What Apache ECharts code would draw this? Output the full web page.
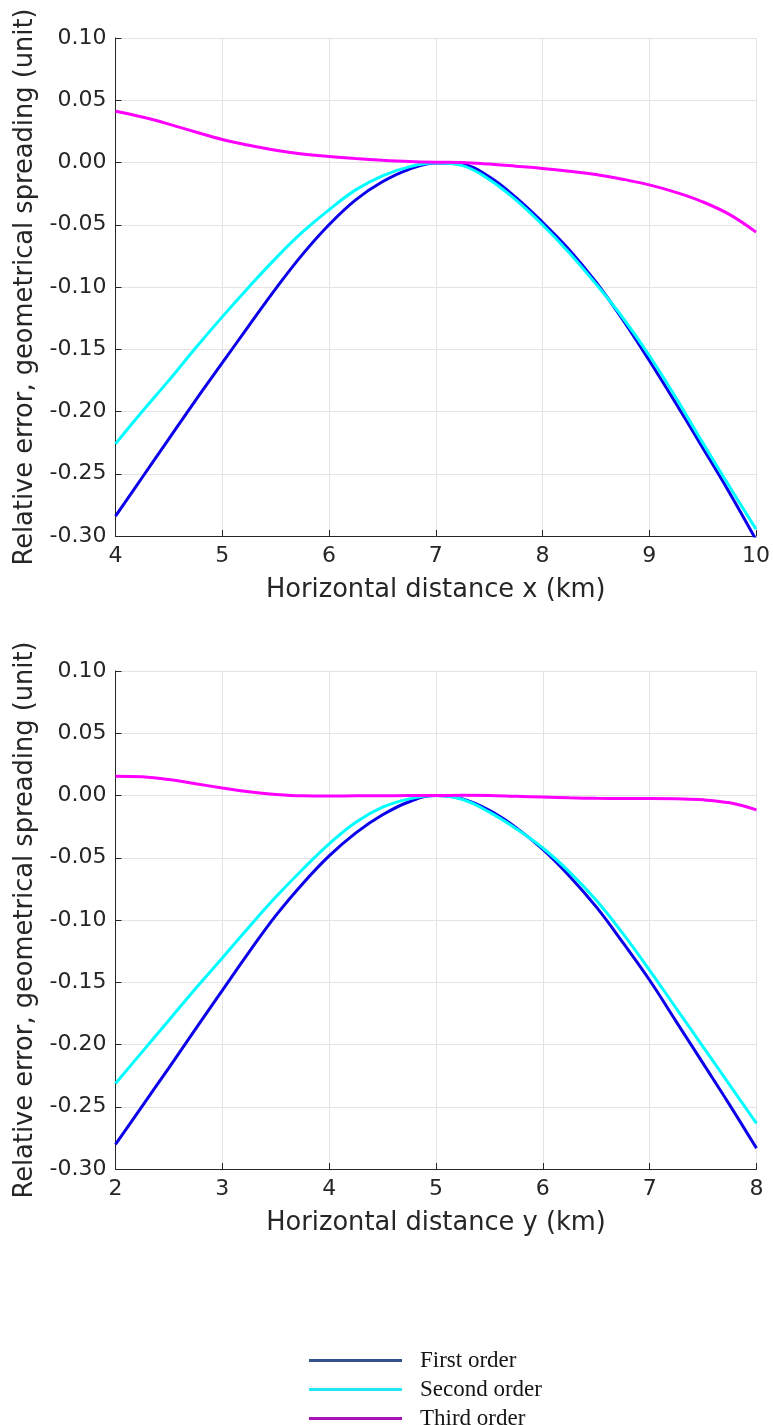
<!DOCTYPE html>
<html>
<head>
<meta charset="utf-8">
<script src="https://cdn.jsdelivr.net/npm/echarts@6/dist/echarts.min.js"></script>
<style>
  html, body { margin: 0; padding: 0; background: #ffffff; }
  #chart { width: 773px; height: 1425px; }
</style>
</head>
<body>
<div id="chart"></div>
<script>
// Sample positions along the x profile (km)
const xProfile = [4, 4.25, 4.5, 4.75, 5, 5.25, 5.5, 5.75, 6, 6.25, 6.5, 6.75, 7,
                  7.25, 7.5, 7.75, 8, 8.25, 8.5, 8.75, 9, 9.25, 9.5, 9.75, 10];
// Relative error along x, per approximation order
const xFirst  = [-0.284, -0.253, -0.222, -0.191, -0.161, -0.131, -0.1015, -0.074, -0.050, -0.030, -0.0155, -0.0055, -0.0005,
                 -0.0016, -0.0115, -0.028, -0.048, -0.070, -0.096, -0.126, -0.159, -0.1935, -0.229, -0.265, -0.303];
const xSecond = [-0.226, -0.200, -0.175, -0.149, -0.124, -0.100, -0.077, -0.056, -0.038, -0.022, -0.0107, -0.0035, -0.0003,
                 -0.0025, -0.0136, -0.030, -0.050, -0.0725, -0.0975, -0.1245, -0.155, -0.189, -0.225, -0.260, -0.2945];
const xThird  = [0.0412, 0.0365, 0.0308, 0.0245, 0.0185, 0.0138, 0.0098, 0.0068, 0.0048, 0.0032, 0.0019, 0.0009, 0.0003,
                 0.0, -0.0013, -0.003, -0.0048, -0.007, -0.0096, -0.0134, -0.018, -0.024, -0.0316, -0.0417, -0.0559];

// Sample positions along the y profile (km)
const yProfile = [2, 2.25, 2.5, 2.75, 3, 3.25, 3.5, 3.75, 4, 4.25, 4.5, 4.75, 5,
                  5.25, 5.5, 5.75, 6, 6.25, 6.5, 6.75, 7, 7.25, 7.5, 7.75, 8];
// Relative error along y, per approximation order
const yFirst  = [-0.2802, -0.2495, -0.2187, -0.1875, -0.1565, -0.1258, -0.0965, -0.0710, -0.0485, -0.0300, -0.0155, -0.0050, 0,
                 -0.0028, -0.0120, -0.0258, -0.0433, -0.0648, -0.0895, -0.1182, -0.1484, -0.1818, -0.2152, -0.2487, -0.2834];
const ySecond = [-0.2313, -0.2059, -0.1805, -0.155, -0.1305, -0.1056, -0.0816, -0.0594, -0.0388, -0.0214, -0.0094, -0.0027, 0,
                 -0.0032, -0.0134, -0.0267, -0.0422, -0.0615, -0.0842, -0.111, -0.1404, -0.1711, -0.2019, -0.2326, -0.2634];
const yThird  = [0.0155, 0.015, 0.0128, 0.0094, 0.0061, 0.0030, 0.0009, -0.0003, -0.0005, -0.0003, -0.0002, 0, 0,
                 0.0002, 0, -0.0007, -0.0013, -0.0019, -0.0023, -0.0024, -0.0024, -0.0027, -0.0035, -0.0059, -0.0115];

const seriesNames = ['First order', 'Second order', 'Third order'];
const lineColors = ['#0c00ea', '#00ffff', '#ff00ff'];
const legendColors = ['#34528c', '#22e8f2', '#a414b6'];

const xTitles = ['Horizontal distance x (km)', 'Horizontal distance y (km)'];
const yTitle = 'Relative error, geometrical spreading (unit)';

const tickFont = { fontFamily: 'DejaVu Sans', fontSize: 22, color: '#262626' };
const titleFont = { fontFamily: 'DejaVu Sans', fontSize: 25.7, color: '#262626' };
const axisDark = '#262626';
const gridGray = '#e3e3e3';

function pair(xs, ys) { return xs.map((x, i) => [x, ys[i]]); }

function xAxisFor(idx, min, max) {
  return {
    type: 'value', gridIndex: idx, min: min, max: max, interval: 1,
    name: xTitles[idx], nameLocation: 'middle', nameGap: 41,
    nameTextStyle: titleFont,
    axisLine: { show: true, onZero: false, lineStyle: { color: axisDark, width: 1 } },
    axisTick: { show: true, inside: true, length: 6, lineStyle: { color: axisDark } },
    axisLabel: Object.assign({ margin: 9 }, tickFont),
    splitLine: { show: true, lineStyle: { color: gridGray, width: 1 } }
  };
}

function yAxisFor(idx) {
  return {
    type: 'value', gridIndex: idx, min: -0.3, max: 0.1, interval: 0.05,
    name: yTitle, nameLocation: 'middle', nameGap: 71, nameRotate: 90,
    nameTextStyle: titleFont,
    axisLine: { show: true, onZero: false, lineStyle: { color: axisDark, width: 1 } },
    axisTick: { show: true, inside: true, length: 6, lineStyle: { color: axisDark } },
    axisLabel: Object.assign({ margin: 9, formatter: v => v.toFixed(2) }, tickFont),
    splitLine: { show: true, lineStyle: { color: gridGray, width: 1 } }
  };
}

function lineSeries(name, color, idx, data) {
  return {
    type: 'line', name: name, xAxisIndex: idx, yAxisIndex: idx,
    data: data, symbol: 'none', smooth: 0.4, clip: true,
    lineStyle: { color: color, width: 3 }, itemStyle: { color: color },
    emphasis: { disabled: true }
  };
}

const valueSets = [[xFirst, xSecond, xThird], [yFirst, ySecond, yThird]];
const profiles = [xProfile, yProfile];

const series = [];
for (let g = 0; g < 2; g++) {
  for (let s = 0; s < 3; s++) {
    series.push(lineSeries(seriesNames[s], lineColors[s], g, pair(profiles[g], valueSets[g][s])));
  }
}

const chart = echarts.init(document.getElementById('chart'), null, { renderer: 'canvas' });
chart.setOption({
  animation: false,
  backgroundColor: '#ffffff',
  grid: [
    { left: 115.5, top: 38, width: 641, height: 498 },
    { left: 115.5, top: 671, width: 641, height: 498 }
  ],
  xAxis: [xAxisFor(0, 4, 10), xAxisFor(1, 2, 8)],
  yAxis: [yAxisFor(0), yAxisFor(1)],
  legend: {
    show: true,
    orient: 'vertical', left: 309, top: 1349, height: 140, padding: 0,
    itemWidth: 93, itemHeight: 3, itemGap: 6,
    icon: 'rect',
    data: seriesNames.map((n, i) => ({
      name: n,
      itemStyle: { color: legendColors[i] }
    })),
    textStyle: { fontFamily: 'Liberation Serif', fontSize: 23, lineHeight: 22, color: '#151515', padding: [0, 0, 0, 13] },
    selectedMode: false
  },
  series: series
});
</script>
</body>
</html>
